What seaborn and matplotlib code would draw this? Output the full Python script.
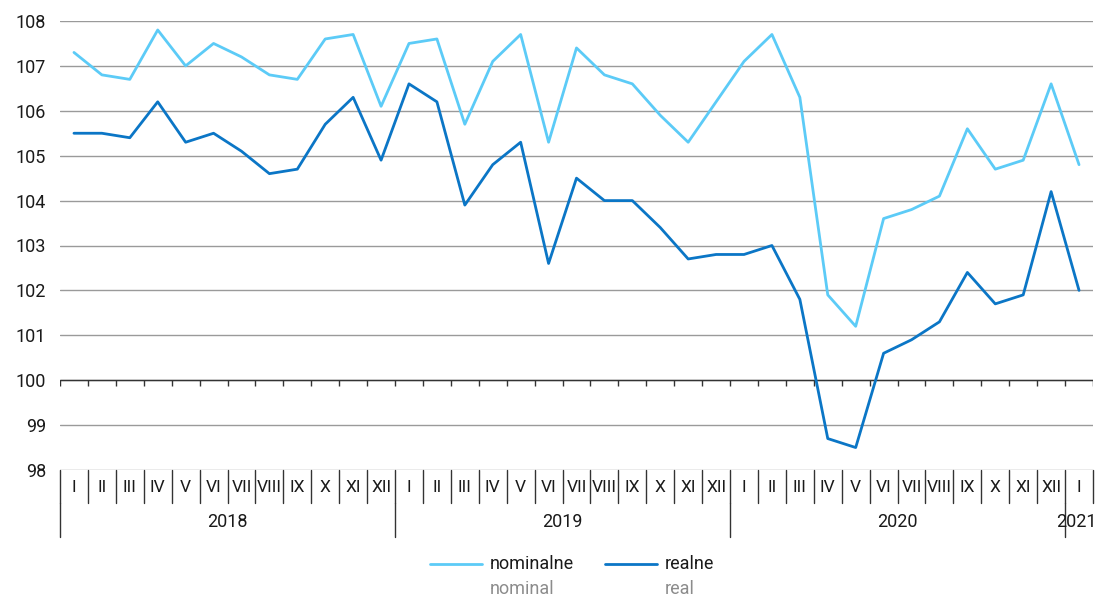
import numpy as np
import pandas as pd
import matplotlib
matplotlib.use("Agg")
import matplotlib.pyplot as plt
from matplotlib.lines import Line2D
import matplotlib.transforms as mtransforms
import seaborn as sns

months = ["I", "II", "III", "IV", "V", "VI", "VII", "VIII", "IX", "X", "XI", "XII"]
years = ["2018", "2019", "2020", "2021"]
month_labels = months * 3 + ["I"]

nominal = [107.3, 106.8, 106.7, 107.8, 107.0, 107.5, 107.2, 106.8, 106.7, 107.6, 107.7, 106.1,
           107.5, 107.6, 105.7, 107.1, 107.7, 105.3, 107.4, 106.8, 106.6, 105.9, 105.3, 106.2,
           107.1, 107.7, 106.3, 101.9, 101.2, 103.6, 103.8, 104.1, 105.6, 104.7, 104.9, 106.6,
           104.8]
real = [105.5, 105.5, 105.4, 106.2, 105.3, 105.5, 105.1, 104.6, 104.7, 105.7, 106.3, 104.9,
        106.6, 106.2, 103.9, 104.8, 105.3, 102.6, 104.5, 104.0, 104.0, 103.4, 102.7, 102.8,
        102.8, 103.0, 101.8, 98.7, 98.5, 100.6, 100.9, 101.3, 102.4, 101.7, 101.9, 104.2,
        102.0]

series_names = ["nominalne", "realne"]
series_en = ["nominal", "real"]
colors = ["#5CCBF7", "#0B76C6"]

sns.set_theme(style="white")
plt.rcParams["font.family"] = ["Roboto", "DejaVu Sans"]

n = len(nominal)
idx = np.arange(n)
df = pd.DataFrame({
    "x": np.concatenate([idx, idx]),
    "y": nominal + real,
    "series": [series_names[0]] * n + [series_names[1]] * n,
})

fig = plt.figure(figsize=(11, 5.98), dpi=100)
ax = fig.add_axes([60 / 1100, 1 - 470 / 598, (1093 - 60) / 1100, (470 - 21) / 598])

sns.lineplot(data=df, x="x", y="y", hue="series", palette=colors, linewidth=2.0,
             ax=ax, legend=False, sort=False, zorder=3)

ax.set_xlim(-0.5, n - 0.5)
ax.set_ylim(98, 108)
ax.set_yticks(range(98, 109))
ax.tick_params(axis="y", length=0, labelsize=13, pad=10, colors="#1a1a1a")
ax.set_xticks([])
ax.set_xlabel("")
ax.set_ylabel("")
for s in ax.spines.values():
    s.set_visible(False)

for v in range(98, 109):
    ax.axhline(v, color="#9a9a9a", linewidth=1.0, zorder=1)
ax.axhline(100, color="#333333", linewidth=1.0, zorder=2)
bounds = np.arange(-0.5, n, 1.0)
ax.vlines(bounds, 99.86, 100, color="#333333", linewidth=1.0, zorder=2)

trans = mtransforms.blended_transform_factory(ax.transData, fig.transFigure)
fy = lambda py: 1 - py / 598
# month separators
for b in bounds:
    ax.add_artist(Line2D([b, b], [fy(470), fy(503)], transform=trans, color="#333333",
                         linewidth=1.0, clip_on=False))
for i, lab in enumerate(month_labels):
    ax.text(i, fy(487), lab, transform=trans, ha="center", va="center", fontsize=12.5,
            color="#1a1a1a", clip_on=False)
# year separators and labels
for yb in [-0.5, 11.5, 23.5, 35.5]:
    ax.add_artist(Line2D([yb, yb], [fy(503), fy(537)], transform=trans, color="#333333",
                         linewidth=1.0, clip_on=False))
year_centers = [5.5, 17.5, 29.5, 35.9]
for yc, yl in zip(year_centers, years):
    ax.text(yc, fy(522), yl, transform=trans, ha="center", va="center", fontsize=13,
            color="#1a1a1a", clip_on=False)

# legend
leg_x = [(430, 482, 490), (605, 657, 665)]
for (x0, x1, tx), name, en, c in zip(leg_x, series_names, series_en, colors):
    fig.add_artist(Line2D([x0 / 1100, x1 / 1100], [fy(564), fy(564)], color=c, linewidth=2.0))
    fig.text(tx / 1100, fy(564), name, ha="left", va="center", fontsize=13, color="#1a1a1a")
    fig.text(tx / 1100, fy(589), en, ha="left", va="center", fontsize=13, color="#8c8c8c")

fig.savefig("out.png", dpi=100)
